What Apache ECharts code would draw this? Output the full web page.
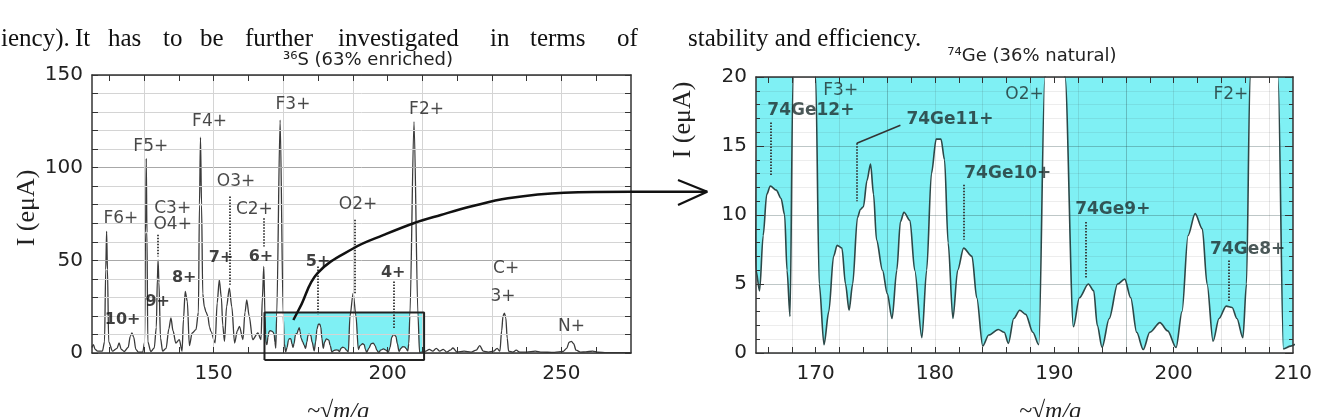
<!DOCTYPE html>
<html><head><meta charset="utf-8">
<script src="https://cdn.jsdelivr.net/npm/echarts@6/dist/echarts.min.js"></script>
<style>html,body{margin:0;padding:0;background:#fff}#c{width:1329px;height:417px}</style>
</head><body><div id="c"></div>
<script>
// ---------- DATA ----------
const spectrum = [
 [115.0,3.0],[115.4,4.5],[115.9,2.0],[116.6,1.0],[118.0,1.0],[118.6,6.0],[118.95,45.0],[119.2,65.6],[119.45,45.0],[119.8,6.0],
 [120.9,1.0],[122.2,2.5],[122.8,5.4],[123.4,2.0],[124.3,0.8],[125.4,3.0],[126.0,9.0],[126.5,10.8],[127.0,8.5],[127.6,2.0],
 [128.3,0.5],[129.6,0.5],[130.15,6.0],[130.4,65.0],[130.6,105.0],[130.8,65.0],[131.05,6.0],[131.9,0.8],[132.9,2.7],[133.5,14.0],
 [133.8,40.0],[134.0,50.3],[134.25,38.0],[134.7,8.0],[135.3,1.0],[136.3,2.5],[137.1,13.0],[137.7,18.9],[138.3,12.0],[139.1,5.4],
 [140.1,7.2],[140.9,1.0],[141.3,18.0],[141.8,33.2],[142.4,28.0],[143.0,4.0],[143.8,10.8],[144.9,12.6],[145.6,22.0],[145.9,80.0],
 [146.2,116.4],[146.5,80.0],[146.85,32.0],[147.3,25.0],[147.8,22.0],[148.3,20.0],[148.8,14.0],[149.2,11.7],[150.4,5.5],[151.0,27.0],
 [151.6,39.5],[152.2,30.0],[152.6,15.0],[153.1,6.3],[153.7,25.0],[154.5,35.0],[155.2,25.0],[156.0,5.4],[156.8,12.0],[157.4,14.4],
 [158.4,7.2],[159.0,22.0],[159.5,28.7],[160.2,20.0],[161.2,7.2],[162.7,10.8],[163.6,7.2],[164.0,30.0],[164.4,46.7],[164.75,20.0],
 [165.0,6.0],[165.3,4.5],[165.6,8.5],[165.9,11.5],[166.2,12.1],[166.7,11.8],[167.1,11.2],[167.4,10.0],[167.6,6.0],[167.85,2.65],
 [168.1,20.0],[169.1,125.7],[170.0,20.0],[170.3,5.0],[170.7,0.6],[171.1,3.0],[171.5,7.0],[171.8,7.8],[172.2,7.6],[172.5,5.0],
 [172.8,3.1],[173.1,5.0],[173.5,9.8],[173.75,10.4],[174.0,10.6],[174.3,12.5],[174.6,13.7],[174.85,11.5],[175.1,8.2],[175.6,6.0],
 [176.0,4.3],[176.4,2.5],[176.8,6.0],[177.1,9.5],[177.4,10.2],[177.9,9.6],[178.3,6.0],[178.9,1.1],[179.3,6.0],[179.7,13.0],
 [180.1,15.5],[180.5,15.5],[180.8,14.0],[181.1,8.0],[181.5,2.5],[181.9,6.0],[182.4,7.6],[183.1,7.0],[183.5,4.0],[184.0,0.5],
 [184.5,1.3],[185.3,1.7],[185.8,1.5],[186.15,0.7],[186.6,2.5],[187.1,3.1],[187.6,2.8],[188.2,1.5],[188.7,0.6],[189.2,20.0],
 [190.1,32.3],[190.9,20.0],[191.6,1.9],[192.1,4.0],[192.85,5.0],[193.3,4.5],[193.6,2.0],[194.0,0.4],[194.6,2.5],[195.3,5.0],
 [195.9,5.35],[196.4,4.0],[196.9,1.5],[197.45,0.25],[198.0,1.5],[198.85,2.2],[199.5,1.6],[200.2,0.4],[200.7,3.0],[201.2,8.5],
 [201.8,10.1],[202.4,9.0],[202.8,5.0],[203.3,0.85],[203.8,2.5],[204.4,3.4],[204.9,3.3],[205.3,2.5],[205.8,1.1],[206.1,5.0],
 [206.4,20.0],[207.6,124.8],[208.75,20.0],[209.2,0.3],[209.8,0.5],[211.0,1.0],[212.0,2.0],[213.0,1.0],[214.0,2.5],[215.0,1.0],
 [216.0,2.0],[217.0,0.5],[218.0,1.5],[218.8,2.7],[220.0,0.5],[222.0,1.0],[224.0,0.5],[225.5,1.5],[226.5,4.0],[227.5,1.0],
 [229.0,0.5],[230.5,1.0],[231.5,2.5],[232.3,1.0],[232.8,12.0],[233.2,20.0],[233.6,21.5],[234.0,19.0],[234.4,8.0],[234.8,1.0],
 [236.0,0.5],[237.0,1.5],[238.0,0.5],[240.0,0.5],[242.5,1.0],[244.0,0.5],[248.0,0.3],[250.5,0.8],[251.5,2.5],[252.2,5.8],
 [252.9,6.3],[253.5,5.0],[254.2,1.5],[255.5,0.5],[257.0,0.6],[259.0,1.0],[260.5,0.4],[263.0,0.2],[270.0,0.2]
];
const leftXTicks = [120,130,140,150,160,170,180,190,200,210,220,230,240,250,260];
const leftXLabels = [150,200,250];
const rightXTicks = [166,168,170,172,174,176,178,180,182,184,186,188,190,192,194,196,198,200,202,204,206,208];
const rightXLabels = [170,180,190,200,210];
const leftIonLabels = [['F6+',123.3,72.7],['F5+',131.9,111.4],['F4+',148.8,124.8],['F3+',172.8,133.8],['F2+',211.2,131.1],
 ['C3+',138.2,78.1],['O4+',138.2,69.2],['O3+',156.4,92.5],['C2+',161.7,77.2],['O2+',191.5,79.9],['C+',234.1,45.8],['3+',233.2,30.5],['N+',252.9,14.4]];
const leftChargeLabels = [['10+',123.8,18],['9+',133.9,27.8],['8+',141.5,40.4],['7+',152.1,51.2],['6+',163.6,52],['5+',180,49.4],['4+',201.6,43.1]];
const leftLeaders = [[133.9,63.8,52.1],[154.5,84.4,36.8],[164.4,72.7,57.5],[179.8,46.7,20.7],[190.5,71.9,32.3],[201.8,38.6,13.5]];
const rightIonLabels = [['F3+',172.1,19.0],['O2+',187.5,18.7],['F2+',204.8,18.7]];
const rightGeLabels = [['74Ge12+',169.6,17.6],['74Ge11+',181.25,16.9],['74Ge10+',186.1,13.0],['74Ge9+',194.9,10.4],['74Ge8+',206.2,7.5]];
const rightLeaders = [[166.2,16.7,12.8],[173.45,15.2,11.0],[182.4,12.2,8.2],[192.6,9.5,5.4],[204.6,6.7,3.7]];
const rightSolidLeader = [[177.1,16.5],[173.45,15.2]];
const boxX = [164.6, 210.5];
const boxY = [-3.8, 21.8];
const arrowPath = [[172.9,17.8],[174.9,25.0],[179.8,43.0],[190.2,56.5],[198.9,63.7],[207.9,70.3],[215.3,74.5],[223.9,79.0],[234.6,83.5],[250.7,86.5],[270.0,87.0],[291.9,87.0]];
const arrowHead = [[283.5,93.4],[291.9,87.0],[283.5,79.9]];
const paragraphWords = [['iency).',1],['It',75],['has',108],['to',163],['be',200],['further',245],['investigated',338],['in',490],['terms',530],['of',617],['stability and efficiency.',688]];

// ---------- CHART ----------
const CYAN = '#7ff0f4';
const AX = '#333';
const T = 'rgba(0,0,0,0)';
const chart = echarts.init(document.getElementById('c'));
const lbl = arr => arr.map(d => ({value:[d[1], d[2]], name:d[0]}));
const leaders = arr => arr.map(d => ({coords:[[d[0], d[1]], [d[0], d[2]]]}));
const axLine = {show:true, onZero:false, lineStyle:{color:AX, width:1.5}};
const tickFont = {fontSize:20, fontFamily:'DejaVu Sans', color:'#222'};
const boxPath = [[boxX[0],boxY[0]],[boxX[0],boxY[1]],[boxX[1],boxY[1]],[boxX[1],boxY[0]],[boxX[0],boxY[0]]];
const LG = '#d4d4d4';
const RL = 'rgba(60,60,60,0.13)', RD = 'rgba(40,70,70,0.3)';

const option = {
  animation:false,
  grid:[
    {left:92, top:75, width:539, height:278, show:false},
    {left:756, top:77, width:537, height:276, show:true, backgroundColor:CYAN, borderWidth:0},
    {left:92, top:75, width:626, height:278, show:false}
  ],
  xAxis:[
    {gridIndex:0, type:'value', min:115, max:270, interval:5, position:'bottom', z:3, axisLine:axLine,
     axisTick:{inside:true, length:6, customValues:leftXTicks, lineStyle:{color:AX}},
     axisLabel:Object.assign({customValues:leftXLabels, margin:11}, tickFont),
     splitLine:{show:true, lineStyle:{color:[T, LG], width:1}}},
    {gridIndex:0, type:'value', min:115, max:270, interval:5, position:'top', z:3, axisLine:axLine,
     axisTick:{inside:true, length:6, customValues:leftXTicks, lineStyle:{color:AX}},
     axisLabel:{show:false}, splitLine:{show:false}},
    {gridIndex:1, type:'value', min:165, max:210, interval:1, position:'bottom', z:3, axisLine:axLine,
     axisTick:{inside:true, length:6, customValues:rightXTicks, lineStyle:{color:AX}},
     axisLabel:Object.assign({customValues:rightXLabels, margin:11}, tickFont),
     splitLine:{show:true, lineStyle:{color:[T, RL, T, RL, T, RD, T, RL, T, RL], width:1}}},
    {gridIndex:1, type:'value', min:165, max:210, interval:1, position:'top', z:3, axisLine:axLine,
     axisTick:{inside:true, length:6, customValues:rightXTicks, lineStyle:{color:AX}},
     axisLabel:{show:false}, splitLine:{show:false}},
    {gridIndex:2, type:'value', min:115, max:295, show:false}
  ],
  yAxis:[
    {gridIndex:0, type:'value', min:0, max:150, interval:50, position:'left', z:3, axisLine:axLine,
     axisTick:{inside:true, length:6, lineStyle:{color:AX}},
     minorTick:{show:true, splitNumber:5, length:6, lineStyle:{color:AX}},
     axisLabel:Object.assign({margin:9}, tickFont),
     splitLine:{show:true, lineStyle:{color:'#a8a8a8', width:1}},
     minorSplitLine:{show:true, lineStyle:{color:LG, width:1}}},
    {gridIndex:0, type:'value', min:0, max:150, interval:50, position:'right', z:3, axisLine:axLine,
     axisTick:{inside:true, length:6, lineStyle:{color:AX}},
     minorTick:{show:true, splitNumber:5, length:6, lineStyle:{color:AX}},
     axisLabel:{show:false}, splitLine:{show:false}},
    {gridIndex:1, type:'value', min:0, max:20, interval:5, position:'left', z:3, axisLine:axLine,
     axisTick:{inside:true, length:8, lineStyle:{color:AX}},
     minorTick:{show:true, splitNumber:5, length:4, lineStyle:{color:AX}},
     axisLabel:Object.assign({margin:9}, tickFont),
     splitLine:{show:true, lineStyle:{color:RD, width:1}},
     minorSplitLine:{show:true, lineStyle:{color:'rgba(60,60,60,0.09)', width:1}}},
    {gridIndex:1, type:'value', min:0, max:20, interval:5, position:'right', z:3, axisLine:axLine,
     axisTick:{inside:true, length:8, lineStyle:{color:AX}},
     minorTick:{show:true, splitNumber:5, length:4, lineStyle:{color:AX}},
     axisLabel:{show:false}, splitLine:{show:false}},
    {gridIndex:2, type:'value', min:0, max:150, show:false}
  ],
  series:[
    {type:'line', xAxisIndex:0, yAxisIndex:0, data:spectrum, showSymbol:false, smooth:0.3, smoothMonotone:'x',
     lineStyle:{color:'#3a3a3a', width:1.3}, areaStyle:{color:'#fff', opacity:1}, z:2, silent:true,
     markArea:{silent:true, itemStyle:{color:CYAN}, data:[[{coord:[boxX[0],0]},{coord:[boxX[1],boxY[1]]}]]}},
    {type:'line', xAxisIndex:0, yAxisIndex:0, data:boxPath, showSymbol:false, clip:false, z:5, silent:true,
     lineStyle:{color:'#222', width:2}},
    {type:'lines', coordinateSystem:'cartesian2d', xAxisIndex:0, yAxisIndex:0, data:leaders(leftLeaders), z:4, silent:true,
     lineStyle:{color:'#333', width:1.8, type:[1.5,1.5], opacity:1}},
    {type:'scatter', xAxisIndex:0, yAxisIndex:0, data:lbl(leftIonLabels), symbolSize:0, z:6, silent:true, clip:false,
     label:{show:true, position:'inside', formatter:'{b}', fontSize:17, fontFamily:'DejaVu Sans', color:'#1a1a1a'}},
    {type:'scatter', xAxisIndex:0, yAxisIndex:0, data:lbl(leftChargeLabels), symbolSize:0, z:6, silent:true, clip:false,
     label:{show:true, position:'inside', formatter:'{b}', fontSize:16, fontWeight:'bold', fontFamily:'DejaVu Sans', color:'#111'}},
    {type:'line', xAxisIndex:4, yAxisIndex:4, data:arrowPath, showSymbol:false, smooth:0.4, clip:false, z:7, silent:true,
     lineStyle:{color:'#111', width:2.5}},
    {type:'line', xAxisIndex:4, yAxisIndex:4, data:arrowHead, showSymbol:false, clip:false, z:7, silent:true,
     lineStyle:{color:'#111', width:2.2}},
    {type:'line', xAxisIndex:2, yAxisIndex:2, data:spectrum, showSymbol:false, smooth:0.3, smoothMonotone:'x', clip:true,
     lineStyle:{color:'#2d4848', width:1.6}, areaStyle:{color:'#fff', opacity:1}, z:2, silent:true},
    {type:'lines', coordinateSystem:'cartesian2d', xAxisIndex:2, yAxisIndex:2, data:leaders(rightLeaders), z:4, silent:true,
     lineStyle:{color:'#333', width:1.8, type:[1.5,1.5], opacity:1}},
    {type:'lines', coordinateSystem:'cartesian2d', xAxisIndex:2, yAxisIndex:2, data:[{coords:rightSolidLeader}], z:4, silent:true,
     lineStyle:{color:'#333', width:1.5, opacity:1}},
    {type:'scatter', xAxisIndex:2, yAxisIndex:2, data:lbl(rightIonLabels), symbolSize:0, z:6, silent:true, clip:false,
     label:{show:true, position:'inside', formatter:'{b}', fontSize:17, fontFamily:'DejaVu Sans', color:'#1e2e2e'}},
    {type:'scatter', xAxisIndex:2, yAxisIndex:2, data:lbl(rightGeLabels), symbolSize:0, z:6, silent:true, clip:false,
     label:{show:true, position:'inside', formatter:'{b}', fontSize:17, fontWeight:'bold', fontFamily:'DejaVu Sans', color:'#1e2e2e'}}
  ],
  graphic:[]
};

paragraphWords.forEach(w => option.graphic.push({type:'text', x:w[1], y:27, silent:true,
  style:{text:w[0], fontSize:25, fontFamily:'Liberation Serif', fill:'#111', align:'left', verticalAlign:'alphabetic'}}));
option.graphic.push(
  {type:'text', x:368, y:60, silent:true, style:{text:'\u00b3\u2076S (63% enriched)', fontSize:18, fontFamily:'DejaVu Sans', fill:'#222', align:'center', verticalAlign:'middle'}},
  {type:'text', x:1032, y:56, silent:true, style:{text:'\u2077\u2074Ge (36% natural)', fontSize:18, fontFamily:'DejaVu Sans', fill:'#222', align:'center', verticalAlign:'middle'}},
  {type:'text', x:27, y:208, rotation:Math.PI/2, silent:true, style:{text:'I (e\u03bcA)', fontSize:26, fontFamily:'Liberation Serif', fill:'#222', align:'center', verticalAlign:'middle'}},
  {type:'text', x:683, y:120, rotation:Math.PI/2, silent:true, style:{text:'I (e\u03bcA)', fontSize:26, fontFamily:'Liberation Serif', fill:'#222', align:'center', verticalAlign:'middle'}},
  {type:'text', x:338, y:400, silent:true, style:{text:'~\u221am/q', fontSize:24, fontStyle:'italic', fontFamily:'Liberation Serif', fill:'#222', align:'center', verticalAlign:'top'}},
  {type:'text', x:1050, y:400, silent:true, style:{text:'~\u221am/q', fontSize:24, fontStyle:'italic', fontFamily:'Liberation Serif', fill:'#222', align:'center', verticalAlign:'top'}}
);
chart.setOption(option);
</script></body></html>
